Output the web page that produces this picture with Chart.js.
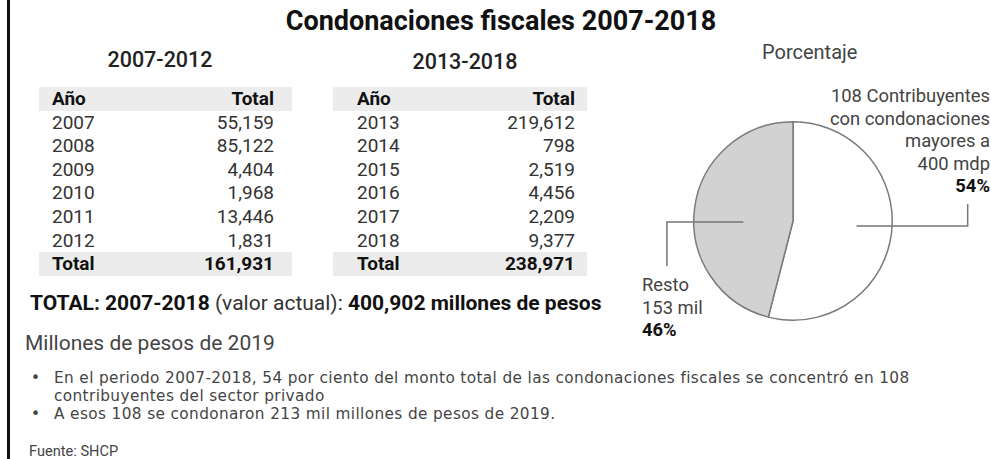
<!DOCTYPE html>
<html>
<head>
<meta charset="utf-8">
<script src="https://cdn.jsdelivr.net/npm/chart.js@4"></script>
<style>
  html, body { margin:0; padding:0; background:#fff; }
  body { width:991px; height:459px; position:relative; overflow:hidden; font-family: Roboto, "Noto Sans", sans-serif; color:#333; }
  .abs { position:absolute; white-space:nowrap; }
  .bar { position:absolute; left:7px; top:0; width:3px; height:459px; background:#111; }
  .title { left:0; width:1002px; text-align:center; top:5px; font-size:27px; font-weight:700; color:#111; }
  .period { font-size:21.5px; font-weight:500; color:#222; text-align:center; }
  .tbl { position:absolute; }
  .row { position:relative; height:23.6px; line-height:23.6px; font-size:19px; }
  .row .a { position:absolute; }
  .row .t { position:absolute; }
  .band { background:#ececec; font-weight:700; color:#111; }
  .txt { font-size:21px; color:#333; }
  .b { font-weight:700; color:#111; }
  .notes { font-family:"DejaVu Sans", Roboto, sans-serif; font-size:15.3px; color:#444; line-height:18px; letter-spacing:0.38px; }
  .bul { display:inline-block; width:23px; }
  .lbl { font-size:18.4px; color:#444; line-height:22.5px; }
</style>
</head>
<body>
<div class="bar"></div>
<div class="abs title">Condonaciones fiscales 2007-2018</div>
<div class="abs period" style="left:60px;width:200px;top:47px;">2007-2012</div>
<div class="abs period" style="left:360px;width:210px;top:49px;">2013-2018</div>
<div id="t1" class="tbl" style="left:39px;top:87px;width:253px;"></div>
<div id="t2" class="tbl" style="left:333px;top:87px;width:254px;"></div>

<div class="abs txt" style="left:30px;top:291px;"><span class="b">TOTAL: 2007-2018</span> (valor actual): <span class="b">400,902 millones de pesos</span></div>
<div class="abs txt" style="left:25px;top:331px;color:#444;">Millones de pesos de 2019</div>
<div class="abs notes" id="notes" style="left:31px;top:369px;"></div>
<div class="abs" style="left:29px;top:442px;font-size:14.6px;color:#444;">Fuente: SHCP</div>

<div class="abs" style="left:762px;top:40px;font-size:20px;color:#444;">Porcentaje</div>
<div class="abs lbl" id="lblBig" style="right:1px;top:85px;text-align:right;"></div>
<div class="abs lbl" id="lblRest" style="left:642px;top:274px;"></div>

<canvas id="pie" width="350" height="240" style="position:absolute;left:640px;top:101px;width:350px;height:240px;"></canvas>

<script>
// ---- data ----
const years1 = ["2007","2008","2009","2010","2011","2012"];
const totals1 = ["55,159","85,122","4,404","1,968","13,446","1,831"];
const sum1 = "161,931";
const years2 = ["2013","2014","2015","2016","2017","2018"];
const totals2 = ["219,612","798","2,519","4,456","2,209","9,377"];
const sum2 = "238,971";
const pieLabels = ["108 Contribuyentes con condonaciones mayores a 400 mdp", "Resto"];
const pieValues = [54, 46];
const bigLabelLines = ["108 Contribuyentes","con condonaciones","mayores a","400 mdp"];
const restLabelLines = ["Resto","153 mil"];
const noteLines = [
  ["•", "En el periodo 2007-2018, 54 por ciento del monto total de las condonaciones fiscales se concentró en 108"],
  ["", "contribuyentes del sector privado"],
  ["•", "A esos 108 se condonaron 213 mil millones de pesos de 2019."]
];

function buildTable(el, years, totals, sum, padL, padR) {
  const mk = (a, t, cls) => {
    const r = document.createElement('div');
    r.className = 'row' + (cls ? ' ' + cls : '');
    const sa = document.createElement('span'); sa.className = 'a'; sa.style.left = padL + 'px'; sa.textContent = a;
    const st = document.createElement('span'); st.className = 't'; st.style.right = padR + 'px'; st.textContent = t;
    r.appendChild(sa); r.appendChild(st); el.appendChild(r);
  };
  mk('Año', 'Total', 'band');
  years.forEach((y, i) => mk(y, totals[i], ''));
  mk('Total', sum, 'band');
}
buildTable(document.getElementById('t1'), years1, totals1, sum1, 13, 18);
buildTable(document.getElementById('t2'), years2, totals2, sum2, 24, 12);

document.getElementById('notes').innerHTML = noteLines
  .map(([b, t]) => '<span class="bul">' + b + '</span>' + t).join('<br>');
document.getElementById('lblBig').innerHTML = bigLabelLines.join('<br>') + '<br><b style="color:#111">' + pieValues[0] + '%</b>';
document.getElementById('lblRest').innerHTML = restLabelLines.join('<br>') + '<br><b style="color:#111">' + pieValues[1] + '%</b>';

const leaders = {
  id: 'leaders',
  afterDatasetsDraw(chart) {
    const arc = chart.getDatasetMeta(0).data[0];
    if (!arc) return;
    const cx = arc.x, cy = arc.y, r = arc.outerRadius;
    const ctx = chart.ctx;
    ctx.save();
    ctx.strokeStyle = '#777';
    ctx.lineWidth = 1.5;
    ctx.beginPath();
    ctx.moveTo(cx + 0.64 * r, cy + 5);
    ctx.lineTo(cx + 1.76 * r, cy + 5);
    ctx.lineTo(cx + 1.76 * r, cy - 17);
    ctx.moveTo(cx - 0.5 * r, cy + 1);
    ctx.lineTo(cx - 1.27 * r, cy + 1);
    ctx.lineTo(cx - 1.27 * r, cy + 45);
    ctx.stroke();
    ctx.restore();
  }
};

new Chart(document.getElementById('pie'), {
  type: 'pie',
  data: {
    labels: pieLabels,
    datasets: [{
      data: pieValues,
      backgroundColor: ['#ffffff', '#d2d2d2'],
      borderColor: '#7a7a7a',
      borderWidth: 1.5
    }]
  },
  options: {
    responsive: false,
    animation: false,
    layout: { padding: { left: 53, right: 97, top: 20, bottom: 20 } },
    plugins: { legend: { display: false }, tooltip: { enabled: false } }
  },
  plugins: [leaders]
});
</script>
</body>
</html>
